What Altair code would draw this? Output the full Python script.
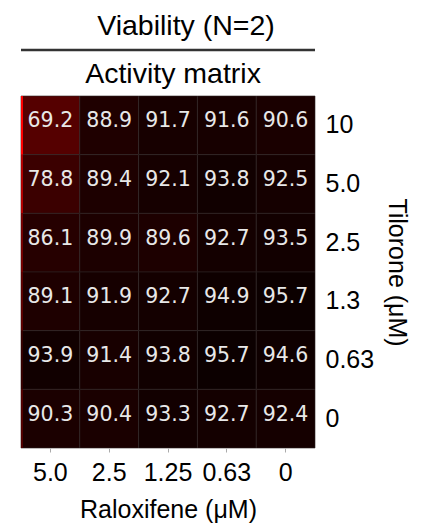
import altair as alt
import pandas as pd

raloxifene = ["5.0", "2.5", "1.25", "0.63", "0"]
tilorone = ["10", "5.0", "2.5", "1.3", "0.63", "0"]
viability = [
    [69.2, 88.9, 91.7, 91.6, 90.6],
    [78.8, 89.4, 92.1, 93.8, 92.5],
    [86.1, 89.9, 89.6, 92.7, 93.5],
    [89.1, 91.9, 92.7, 94.9, 95.7],
    [93.9, 91.4, 93.8, 95.7, 94.6],
    [90.3, 90.4, 93.3, 92.7, 92.4],
]
main_title = "Viability (N=2)"
sub_title = "Activity matrix"
x_title = "Raloxifene (μM)"
y_title = "Tilorone (μM)"

rows = []
for i, t in enumerate(tilorone):
    for j, r in enumerate(raloxifene):
        rows.append({"tilorone": t, "raloxifene": r, "v": viability[i][j]})
df = pd.DataFrame(rows)

W, H = 294, 352
FONT = "Liberation Sans"

xenc = alt.X("raloxifene:N", sort=raloxifene,
             scale=alt.Scale(paddingInner=0, paddingOuter=0),
             axis=alt.Axis(title=x_title, labelAngle=0, domain=False, ticks=True,
                           tickColor="#aaaaaa", tickSize=4, labelPadding=8,
                           titlePadding=12))
yenc = alt.Y("tilorone:N", sort=tilorone,
             scale=alt.Scale(paddingInner=0, paddingOuter=0),
             axis=alt.Axis(title=y_title, orient="right", domain=False, ticks=False,
                           labelAlign="left", labelPadding=10, titlePadding=10))

heat = alt.Chart(df).mark_rect(stroke="#2e2424", strokeWidth=0.6).encode(
    x=xenc, y=yenc,
    color=alt.Color("v:Q", scale=alt.Scale(domain=[7.6, 100], range=["#ff0000", "#000000"],
                                           interpolate="rgb"),
                    legend=None),
)

edge = alt.Chart(df[df["raloxifene"] == raloxifene[0]]).mark_rect().encode(
    x=alt.value(0), x2=alt.value(2),
    y=alt.Y("tilorone:N", sort=tilorone),
    color=alt.Color("v:Q", scale=alt.Scale(domain=[69.2, 100], range=["#ff0000", "#000000"],
                                           interpolate="rgb"),
                    legend=None),
)

labels = alt.Chart(df).mark_text(font="DejaVu Sans", fontSize=20.5, color="#e8e8e8", dy=-4).encode(
    x=alt.X("raloxifene:N", sort=raloxifene),
    y=alt.Y("tilorone:N", sort=tilorone),
    text=alt.Text("v:Q", format=".1f"),
)

one = pd.DataFrame({"k": [0]})
t1 = alt.Chart(one).mark_text(font=FONT, fontSize=28.5, baseline="alphabetic", align="center").encode(
    x=alt.value(165), y=alt.value(-61), text=alt.value(main_title))
t2 = alt.Chart(one).mark_text(font=FONT, fontSize=28.5, baseline="alphabetic", align="center").encode(
    x=alt.value(152), y=alt.value(-13), text=alt.value(sub_title))
rule = alt.Chart(one).mark_rule(color="#333333", strokeWidth=2.5).encode(
    x=alt.value(0), x2=alt.value(W), y=alt.value(-46))

chart = alt.layer(heat, edge, labels, t1, t2, rule).resolve_scale(color="independent").properties(
    width=W, height=H,
    padding={"left": 13, "top": 88, "right": 99, "bottom": 90},
    autosize=alt.AutoSizeParams(type="none"),
).configure_view(stroke=None).configure_axis(
    labelFont=FONT, labelFontSize=25, labelColor="#000000",
    titleFont=FONT, titleFontSize=25, titleFontWeight="normal", titleColor="#000000",
)

chart.save("out.html", embed_options={"renderer": "svg", "actions": False})
